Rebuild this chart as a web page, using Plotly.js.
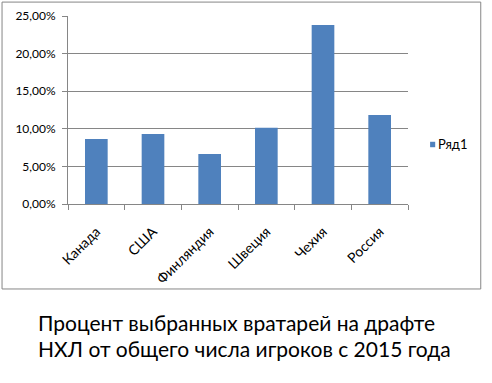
<!DOCTYPE html>
<html><head><meta charset="utf-8">
<script src="https://cdn.plot.ly/plotly-3.0.1.min.js"></script>
<style>html,body{margin:0;padding:0;background:#fff}#chart{width:492px;height:383px}</style>
</head><body><div id="chart"></div>
<script>
const categories = ["Канада", "США", "Финляндия", "Швеция", "Чехия", "Россия"];
const values = [0.0864, 0.0931, 0.0665, 0.1015, 0.2380, 0.1184];
const seriesName = "Ряд1";
const yTicks = [0, 0.05, 0.10, 0.15, 0.20, 0.25];
const titleLines = ["Процент выбранных вратарей на драфте", "НХЛ от общего числа игроков с 2015 года"];

const font = "Lato, 'Liberation Sans', Arial, sans-serif";
const barColor = "#4F81BD";
const trace = {
  type: "bar", x: categories, y: values, name: seriesName,
  marker: {color: barColor}, showlegend: false
};
const layout = {
  width: 492, height: 383,
  margin: {l: 68, r: 84, t: 16, b: 179, pad: 0},
  paper_bgcolor: "#fff", plot_bgcolor: "#fff",
  separators: ", ",
  font: {family: font, size: 12, color: "#000"},
  bargap: 0.6,
  showlegend: false,
  xaxis: {
    type: "category", tickangle: -45, ticks: "outside", ticklen: 5, tickcolor: "#868686",
    tickson: "boundaries", showline: true, linecolor: "#868686", linewidth: 1,
    showgrid: false, tickfont: {size: 14, family: font}, ticklabelstandoff: 13
  },
  yaxis: {
    range: [0, 0.25], tickvals: yTicks, tickformat: ".2%", ticks: "outside", ticklen: 5,
    tickcolor: "#868686", showline: true, linecolor: "#868686", linewidth: 1,
    showgrid: true, gridcolor: "#868686", gridwidth: 1, zeroline: false,
    tickfont: {size: 12, family: font}, ticklabelstandoff: 4
  },
  shapes: [
    {type: "rect", xref: "paper", yref: "paper", x0: -0.194, x1: 1.214, y0: -0.452, y1: 1.074,
      line: {color: "#868686", width: 1}, fillcolor: "rgba(0,0,0,0)", layer: "below"},
    {type: "rect", xref: "paper", yref: "paper", x0: 1.065, x1: 1.08, y0: 0.302, y1: 0.331,
      line: {width: 0}, fillcolor: barColor}
  ],
  annotations: [
    {text: seriesName, xref: "paper", yref: "paper", x: 1.083, y: 0.318, xanchor: "left", yanchor: "middle", showarrow: false, font: {size: 13, family: font, color: "#000"}},
    {text: titleLines[0], xref: "paper", yref: "paper", x: -0.094, y: -0.628, xanchor: "left", yanchor: "middle", showarrow: false, font: {size: 21, family: font, color: "#000"}},
    {text: titleLines[1], xref: "paper", yref: "paper", x: -0.094, y: -0.771, xanchor: "left", yanchor: "middle", showarrow: false, font: {size: 21, family: font, color: "#000"}}
  ]
};
Plotly.newPlot("chart", [trace], layout, {displayModeBar: false, staticPlot: true});
</script></body></html>
